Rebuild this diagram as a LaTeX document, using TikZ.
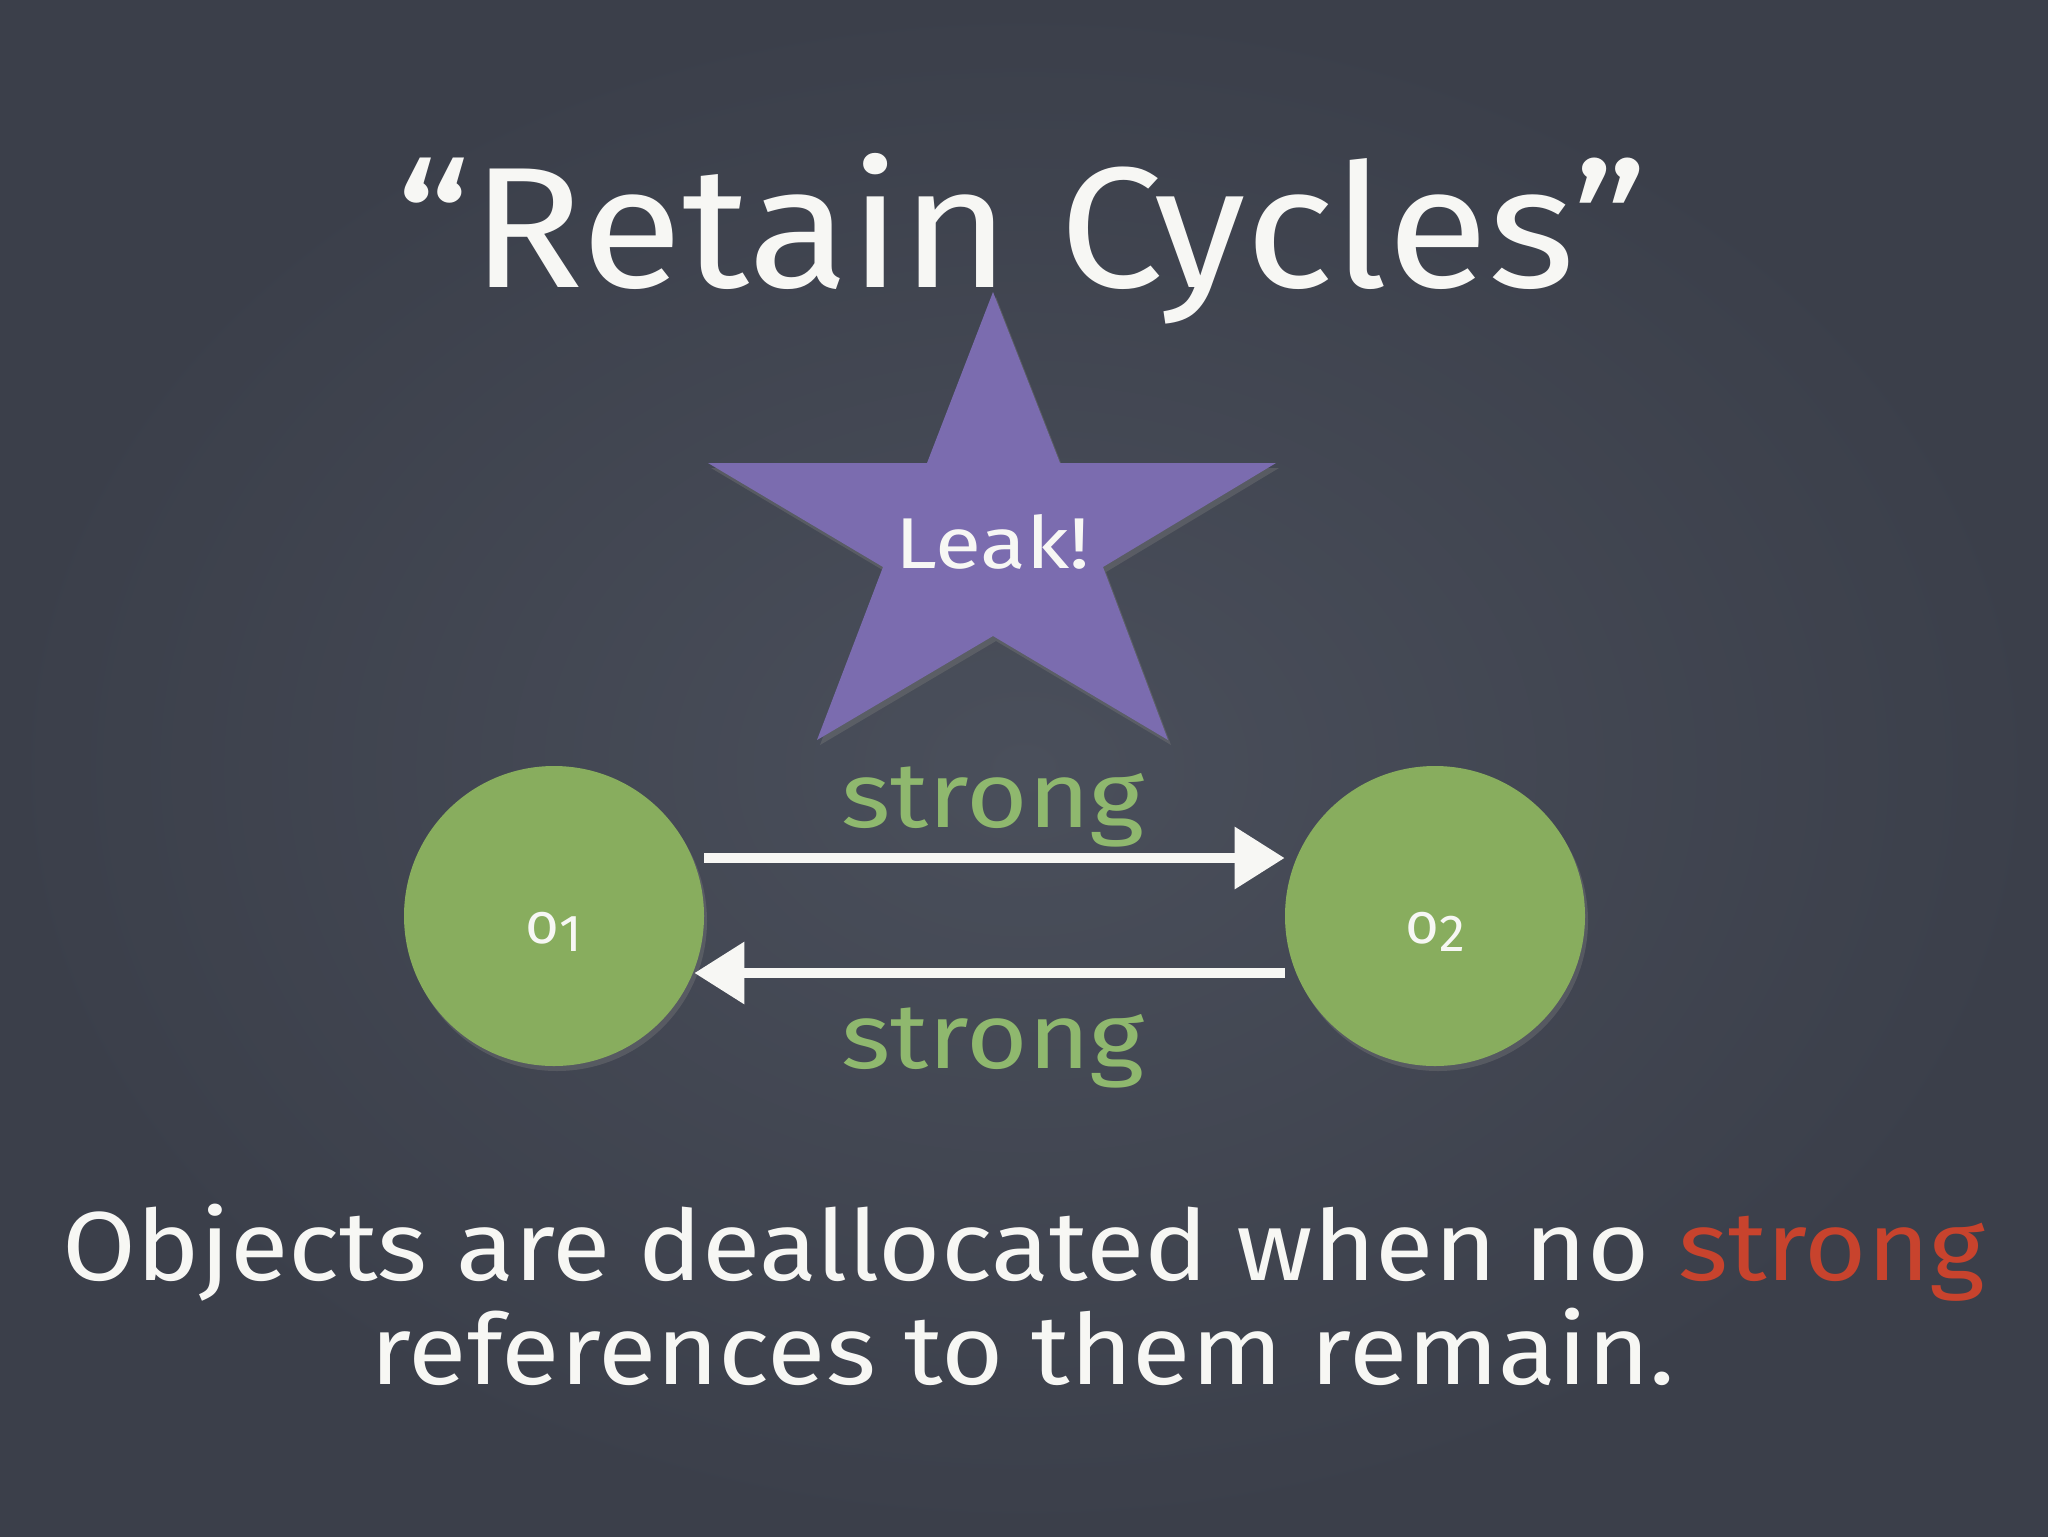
\documentclass[tikz,border=0pt]{standalone}
\usepackage{fontspec}
\setmainfont{Fira Sans}
\usetikzlibrary{arrows.meta,shadows}
\definecolor{boardin}{HTML}{4A4F5B}
\definecolor{boardout}{HTML}{3B3F4A}
\definecolor{starfill}{HTML}{7B6CAF}
\definecolor{objgreen}{HTML}{88AD5E}
\definecolor{labgreen}{HTML}{8FB86E}
\definecolor{chalkred}{HTML}{C8432D}
\definecolor{chalk}{HTML}{F7F7F4}
\tikzset{
  objnode/.style={circle, fill=objgreen, minimum size=150pt, inner sep=0pt,
    drop shadow={opacity=0.35, shadow xshift=1.5pt, shadow yshift=-2.5pt}},
  objlabel/.style={text=chalk, font=\fontsize{29}{32}\selectfont, yshift=-8pt},
  reflabel/.style={text=labgreen, font=\fontsize{44}{50}\selectfont, anchor=base, inner sep=0pt},
  refarrow/.style={draw=chalk, line width=5pt,
    -{Triangle[width=30pt,length=25pt]}},
  titletext/.style={text=chalk, font=\fontsize{86}{90}\selectfont, anchor=base, inner sep=0pt},
  bodytext/.style={text=chalk, font=\fontsize{49}{55}\selectfont, anchor=base, inner sep=0pt},
}
\begin{document}
\begin{tikzpicture}[x=0.5pt,y=-0.5pt]
\useasboundingbox (0,0) rectangle (2048,1536);
\fill[boardout] (0,0) rectangle (2048,1536);
\shade[inner color=boardin, outer color=boardout] (0,0) rectangle (2048,1536);

% title
\node[titletext] (title) at (1022,287) {\scalebox{1.08}[1]{“Retain Cycles”}};

% star
\fill[starfill, drop shadow={opacity=0.35, shadow xshift=1.5pt, shadow yshift=-2.5pt}]
  (993,292) -- (1060,463) -- (1276,463) -- (1103,567) -- (1168,740)
  -- (993,636) -- (817,740) -- (883,567) -- (708,463) -- (927,463) -- cycle;
\node[text=chalk, font=\fontsize{36}{40}\selectfont, anchor=base, inner sep=0pt] (leak) at (993,568) {\scalebox{1.17}[1]{Leak!}};

% objects
\node[objnode, label={[objlabel]center:o\raisebox{-0.25ex}{\fontsize{26}{28}\selectfont 1}}] (o1) at (554,916) {};
\node[objnode, label={[objlabel]center:o\raisebox{-0.25ex}{\fontsize{26}{28}\selectfont 2}}] (o2) at (1435,916) {};

% references
\draw[refarrow] ([yshift=29pt]o1.east) -- ([yshift=29pt]o2.west);
\draw[refarrow] ([yshift=-28.5pt]o2.west) -- ([xshift=-5pt,yshift=-28.5pt]o1.east);
\node[reflabel] (s1) at (993,827) {\scalebox{1.2}[1.05]{strong}};
\node[reflabel] (s2) at (993,1068) {\scalebox{1.2}[1.05]{strong}};

% caption
\node[bodytext] (line1) at (1024,1280) {\scalebox{1.09}[1]{Objects are deallocated when no \textcolor{chalkred}{strong}}};
\node[bodytext] (line2) at (1023,1384) {\scalebox{1.09}[1]{references to them remain.}};
\end{tikzpicture}
\end{document}
